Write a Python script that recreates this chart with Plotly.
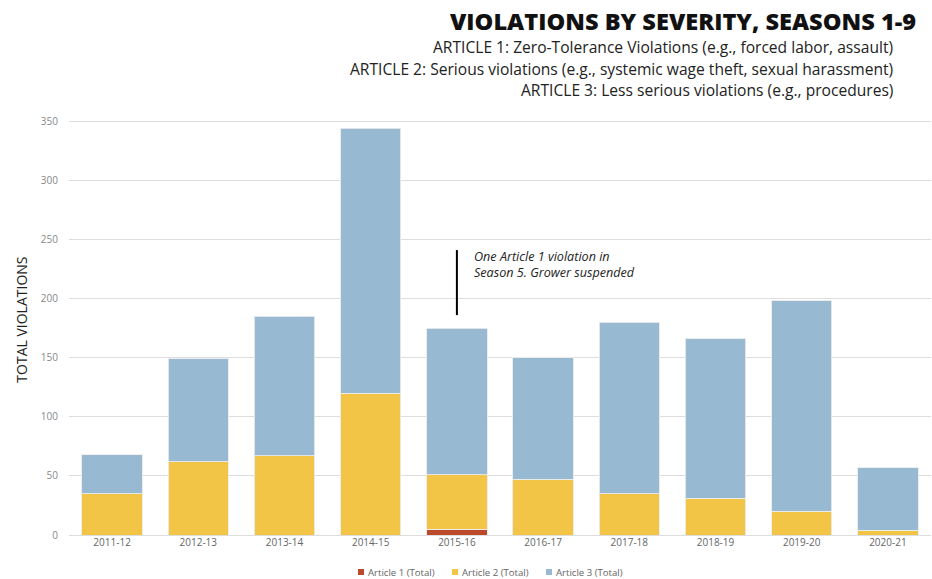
import plotly.graph_objects as go

seasons = ["2011-12", "2012-13", "2013-14", "2014-15", "2015-16",
           "2016-17", "2017-18", "2018-19", "2019-20", "2020-21"]
article1 = [0, 0, 0, 0, 5, 0, 0, 0, 0, 0]
article2 = [35, 62, 67, 120, 46, 47, 35, 31, 20, 4]
article3 = [33, 87, 118, 224, 124, 103, 145, 135, 178, 53]

series_names = ["Article 1 (Total)", "Article 2 (Total)", "Article 3 (Total)"]
colors = ["#BA4A2A", "#F3C546", "#97B9D1"]

FONT = "Open Sans"
W, H = 932, 579
ML, MR, MT, MB = 69, 1, 120, 44
PW, PH = W - ML - MR, H - MT - MB


def px_to_paper_x(px):
    return (px - ML) / PW


def px_to_paper_y(py):
    return (H - MB - py) / PH


fig = go.Figure()
for name, vals, col in zip(series_names, [article1, article2, article3], colors):
    fig.add_trace(go.Bar(
        x=seasons, y=vals, name=name, showlegend=False,
        marker=dict(color=col, line=dict(color="rgba(235,235,235,0.9)", width=1)),
    ))

fig.update_layout(
    width=W, height=H,
    margin=dict(l=ML, r=MR, t=MT, b=MB, autoexpand=False),
    barmode="stack",
    bargap=0.3,
    plot_bgcolor="white",
    paper_bgcolor="white",
    font=dict(family=FONT, color="#666666", size=10),
    showlegend=False,
    xaxis=dict(type="category", showgrid=False, showline=False, ticks="",
               automargin=False,
               tickfont=dict(size=10, color="#666666")),
    yaxis=dict(range=[0, 351], tickvals=[0, 50, 100, 150, 200, 250, 300, 350],
               showgrid=True, gridcolor="#dddddd", automargin=False,
               gridwidth=1, zeroline=True, zerolinecolor="#dddddd", zerolinewidth=1,
               ticks="", ticklabelstandoff=10,
               tickfont=dict(size=10, color="#888888")),
)

# Legend (swatches + labels)
for i, (name, col) in enumerate(zip(series_names, colors)):
    left = 358 + i * 94
    fig.add_shape(type="rect", xref="paper", yref="paper",
                  x0=px_to_paper_x(left), x1=px_to_paper_x(left + 6),
                  y0=px_to_paper_y(575), y1=px_to_paper_y(569),
                  fillcolor=col, line=dict(width=0))
    fig.add_annotation(text=name, xref="paper", yref="paper",
                       x=px_to_paper_x(left + 8), y=px_to_paper_y(572),
                       xanchor="left", yanchor="middle", showarrow=False,
                       font=dict(family=FONT, size=9.6, color="#666666"))

# Title and subtitle
fig.add_annotation(text="VIOLATIONS BY SEVERITY, SEASONS 1-9",
                   xref="paper", yref="paper", x=0.985, y=1.239,
                   xanchor="right", yanchor="middle", showarrow=False,
                   font=dict(family=FONT, size=23.6, color="#111111", weight=800))
subs = ["ARTICLE 1: Zero-Tolerance Violations (e.g., forced labor, assault)",
        "ARTICLE 2: Serious violations (e.g., systemic wage theft, sexual harassment)",
        "ARTICLE 3: Less serious violations (e.g., procedures)"]
for s, yy in zip(subs, [1.176, 1.123, 1.072]):
    fig.add_annotation(text=s, xref="paper", yref="paper", x=0.958, y=yy,
                       xanchor="right", yanchor="middle", showarrow=False,
                       font=dict(family=FONT, size=15.6, color="#222222"))

# Y axis title
fig.add_annotation(text="TOTAL VIOLATIONS", xref="paper", yref="paper",
                   x=-0.0545, y=0.519, textangle=-90, showarrow=False,
                   xanchor="center", yanchor="middle",
                   font=dict(family=FONT, size=14, color="#222222"))

# Callout
fig.add_shape(type="line", xref="x", yref="y", x0=4, x1=4, y0=186, y1=241,
              line=dict(color="black", width=2))
fig.add_annotation(text="<i>One Article 1 violation in<br>Season 5. Grower suspended</i>",
                   xref="x", yref="y", x=4, y=229, xshift=15,
                   xanchor="left", yanchor="middle", align="left", showarrow=False,
                   font=dict(family=FONT, size=12.6, color="#222222"))

fig.write_html("out.html", config={"displayModeBar": False},
               post_script="document.body.style.margin='0';document.body.style.overflow='hidden';")
